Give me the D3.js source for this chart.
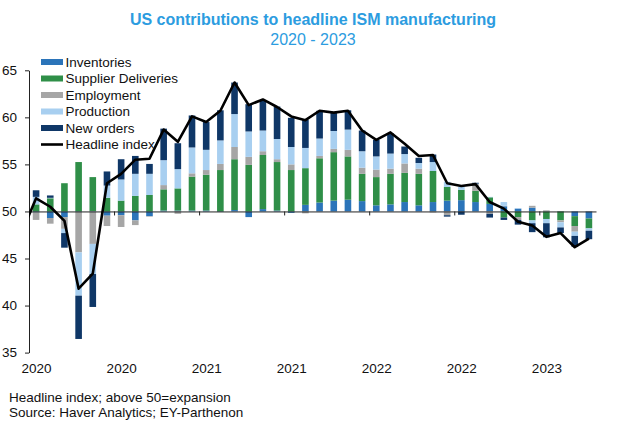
<!DOCTYPE html>
<html><head><meta charset="utf-8">
<script src="https://cdn.jsdelivr.net/npm/d3@7"></script>
<style>
html,body{margin:0;padding:0;background:#fff;}
svg{display:block;font-family:"Liberation Sans",Arial,sans-serif;}
</style></head>
<body><svg id="c" width="629" height="422"></svg>
<script>
// Months Jan 2020 .. Apr 2023 (40 months)
const months = d3.range(40).map(i => new Date(2020, i, 1));
const seriesNames = ["Inventories","Supplier Deliveries","Employment","Production","New orders"];
const colors = ["#2b74b9","#2f8f48","#a6a6a6","#a8cff0","#0f3767"];

// Contributions to headline ISM (index points)
const inventories = [-0.1,-0.7,-0.6,-0.05,0.05,-0.45,-0.4,-0.95,-0.5,0.1,0.1,0.1,
  0.1,-0.05,0.15,-0.6,0.25,0.1,-0.15,0.7,0.95,1.15,1.25,1.1,
  0.65,0.75,1.0,0.65,1.0,1.15,1.2,1.0,0.8,0.55,0.3,0.4,
  0.02,0.02,-0.5,-0.75];
const supplierDeliveries = [0.75,1.4,3.0,5.25,3.6,1.45,1.15,1.65,1.75,2.25,2.35,3.6,
  3.8,4.4,5.4,4.95,5.75,5.15,4.4,3.9,4.7,5.15,4.6,2.9,
  3.0,3.25,3.1,3.35,3.3,1.45,1.1,1.2,0.7,-0.65,-0.6,-0.95,
  -0.8,-0.95,-1.05,-1.05];
const employment = [-0.8,-0.6,-1.25,-4.3,-3.45,-1.1,-1.25,-0.5,-0.05,0.45,-0.25,0.35,
  0.5,0.65,1.3,0.85,0.4,0.3,0.6,-0.2,0.25,0.35,0.7,0.65,
  0.8,0.55,1.0,0.55,-0.1,-0.4,0.0,0.7,-0.25,0.05,-0.3,0.2,
  0.1,-0.2,-0.6,0.05];
const production = [0.8,0.05,-0.45,-4.6,-3.2,1.3,2.25,2.35,2.25,2.65,2.05,2.75,
  2.15,2.5,3.5,2.7,2.2,2.15,1.85,2.15,1.85,1.9,2.15,1.75,
  1.4,1.6,1.0,0.6,0.95,0.55,0.3,0.05,0.05,0.4,0.05,-0.3,
  -0.45,-0.55,-0.45,-0.25];
const newOrders = [0.7,0.25,-1.55,-4.6,-3.5,1.5,2.15,1.9,1.05,3.35,2.75,3.4,
  2.95,3.2,3.35,2.9,3.2,3.45,3.1,3.0,2.95,2.0,2.05,2.2,
  1.75,2.15,0.8,0.55,0.8,-0.15,-0.35,0.1,-0.4,-0.25,-0.5,-0.95,
  -1.5,-0.6,-1.15,-0.9];
// Headline ISM index, Dec 2019 .. Apr 2023 (41 values; first is Dec 2019)
const headline = [47.8,51.4,50.5,49.0,41.8,43.4,53.0,54.0,55.5,55.6,58.7,57.4,60.1,
  59.5,60.7,63.7,61.3,61.9,61.1,60.1,59.7,60.7,60.5,60.7,58.6,
  57.6,58.4,57.2,55.9,56.0,53.0,52.7,52.9,51.0,50.3,48.9,48.5,
  47.3,47.7,46.2,47.1];
const yTicks = [35,40,45,50,55,60,65];
const labelIdx = [0,6,12,18,24,30,36];
const boundaryIdx = [5.5,11.5,17.5,23.5,29.5,35.5];

const table = months.map((m,i) => ({
  "Inventories": inventories[i],
  "Supplier Deliveries": supplierDeliveries[i],
  "Employment": employment[i],
  "Production": production[i],
  "New orders": newOrders[i]
}));

const svg = d3.select("#c");
const pL = 29, pR = 596, pT = 70.3, pB = 352.6;
const x = d3.scaleLinear().domain([-0.5, 39.5]).range([pL, pR]);
const y = d3.scaleLinear().domain([35, 65]).range([pB, pT]);
const barW = 6.6;

// Title
svg.append("text").attr("x", 313).attr("y", 24.5).attr("text-anchor","middle")
  .attr("font-size", 16).attr("font-weight","bold").attr("fill","#2c9ce0")
  .text("US contributions to headline ISM manufacturing");
svg.append("text").attr("x", 313).attr("y", 45).attr("text-anchor","middle")
  .attr("font-size", 16).attr("fill","#2c9ce0").text("2020 - 2023");

// Stacked bars (diverging around 50)
const stack = d3.stack().keys(seriesNames).offset(d3.stackOffsetDiverging);
const stacked = stack(table);
const g = svg.append("g");
stacked.forEach((s, k) => {
  g.append("g").attr("fill", colors[k]).selectAll("rect").data(s).join("rect")
    .attr("x", (d,i) => x(i) - barW/2)
    .attr("width", barW)
    .attr("y", d => y(50 + Math.max(d[0], d[1])))
    .attr("height", d => Math.abs(y(50 + d[0]) - y(50 + d[1])));
});

// Y axis
const ya = svg.append("g").attr("transform", `translate(${pL},0)`)
  .call(d3.axisLeft(y).tickValues(yTicks).tickSize(4).tickSizeOuter(0).tickPadding(8));
ya.selectAll("text").attr("font-size", 13.5).attr("fill","#111").attr("font-family","Liberation Sans, Arial, sans-serif");
ya.selectAll("line,path").attr("stroke","#222");

// X axis at 50
const xa = svg.append("g").attr("transform", `translate(0,${y(50)})`)
  .call(d3.axisBottom(x).tickValues(boundaryIdx).tickSize(4).tickSizeOuter(0).tickFormat(""));
xa.selectAll("line,path").attr("stroke","#222");

// X labels (low)
const xl = svg.append("g").attr("transform", `translate(0,${pB + 8})`)
  .call(d3.axisBottom(x).tickValues(labelIdx).tickSize(0)
    .tickFormat(i => d3.timeFormat("%Y")(months[i])));
xl.select(".domain").remove();
xl.selectAll("text").attr("font-size", 13.5).attr("fill","#111").attr("font-family","Liberation Sans, Arial, sans-serif");

// Headline line, clipped to plot area
svg.append("clipPath").attr("id","clip").append("rect")
  .attr("x", pL).attr("y", 0).attr("width", pR - pL).attr("height", 422);
svg.append("path").datum(headline)
  .attr("clip-path","url(#clip)")
  .attr("fill","none").attr("stroke","#000").attr("stroke-width",2.6)
  .attr("stroke-linejoin","round")
  .attr("d", d3.line().x((d,i) => x(i - 1)).y(d => y(d)));

// Legend
const lg = svg.append("g").attr("transform","translate(41,62)");
const legendRows = seriesNames.map((n,k) => ({name:n, color:colors[k], type:"rect"}))
  .concat([{name:"Headline index", color:"#000", type:"line"}]);
legendRows.forEach((r, k) => {
  const yy = k * 16.5;
  if (r.type === "rect") {
    lg.append("rect").attr("x",0).attr("y",yy-3).attr("width",22).attr("height",6).attr("fill",r.color);
  } else {
    lg.append("line").attr("x1",0).attr("x2",22).attr("y1",yy).attr("y2",yy)
      .attr("stroke",r.color).attr("stroke-width",2.6);
  }
  lg.append("text").attr("x",24.5).attr("y",yy).attr("dy","0.35em")
    .attr("font-size",13.5).attr("fill","#111").text(r.name);
});

// Footnotes
svg.append("text").attr("x",9).attr("y",401.5).attr("font-size",13.5).attr("fill","#111")
  .text("Headline index; above 50=expansion");
svg.append("text").attr("x",9).attr("y",416.5).attr("font-size",13.5).attr("fill","#111")
  .text("Source: Haver Analytics; EY-Parthenon");
</script></body></html>
